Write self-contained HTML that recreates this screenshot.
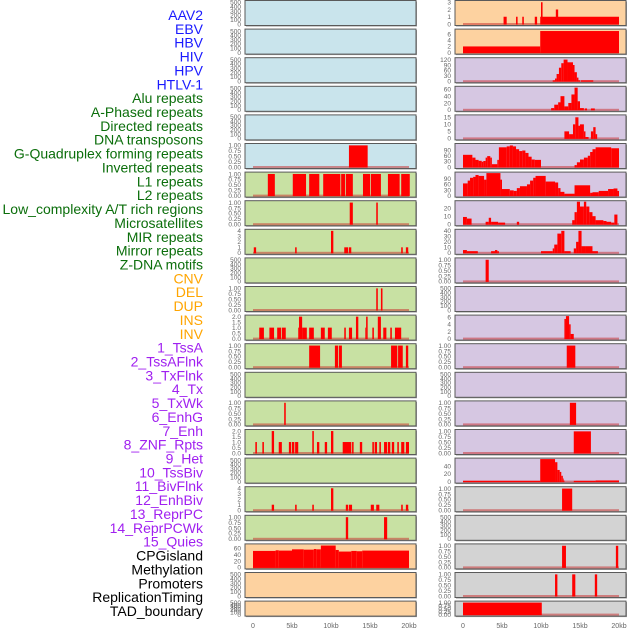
<!DOCTYPE html>
<html><head><meta charset="utf-8"><style>
html,body{margin:0;padding:0;background:#fff;width:630px;height:630px;overflow:hidden;font-family:"Liberation Sans",sans-serif}
svg{display:block}
</style></head><body>
<svg id="chart" width="630" height="630" xmlns="http://www.w3.org/2000/svg"></svg>
<script>
// ---- labels ----
const labelNames = ["AAV2","EBV","HBV","HIV","HPV","HTLV-1","Alu repeats","A-Phased repeats","Directed repeats","DNA transposons","G-Quadruplex forming repeats","Inverted repeats","L1 repeats","L2 repeats","Low_complexity A/T rich regions","Microsatellites","MIR repeats","Mirror repeats","Z-DNA motifs","CNV","DEL","DUP","INS","INV","1_TssA","2_TssAFlnk","3_TxFlnk","4_Tx","5_TxWk","6_EnhG","7_Enh","8_ZNF_Rpts","9_Het","10_TssBiv","11_BivFlnk","12_EnhBiv","13_ReprPC","14_ReprPCWk","15_Quies","CPGisland","Methylation","Promoters","ReplicationTiming","TAD_boundary"];
const labelGroups = [6,13,5,15,5];
const groupColors = ["#1a1aff","#0b6e0b","#ffa500","#a020f0","#000000"];

// ---- tick sets ----
const ticks500 = [0,100,200,300,400,500];
const ticks01 = [0,0.25,0.5,0.75,1];
const ticks04 = [0,1,2,3,4];
const ticks02 = [0,0.5,1,1.5,2];

// ---- left column data: [startKb, endKb, value] ----
const L5 = [[12.3,14.7,1]];
const L6 = [[1.9,2.8,1],[5.1,6.8,1],[7.2,8.5,1],[9.0,11.2,1],[11.3,11.8,1],[11.9,12.8,1],[14.1,15.0,1],[15.1,16.4,1],[17.3,18.8,1],[19.0,20.1,1]];
const L7 = [[12.4,12.8,1],[15.8,16.0,1]];
const L8 = [[0.1,0.4,1],[5.4,5.6,1],[10.0,10.3,4],[11.7,12.2,1],[12.3,12.6,1],[19.0,19.2,1],[19.6,19.9,1]];
const L10 = [[15.8,16.0,1],[16.4,16.6,1]];
const L11 = [[0.8,1.4,1],[2.1,2.7,1],[3.1,3.6,1],[3.7,4.2,1],[5.8,5.9,1],[5.9,6.3,2],[6.3,6.9,1],[7.2,7.8,1],[8.7,9.2,1],[9.6,10.1,1],[11.7,11.9,1],[12.3,12.7,1],[13.2,13.5,2],[14.4,14.5,1],[14.5,14.7,2],[15.3,15.5,1],[16.0,16.4,2],[16.7,17.1,1],[17.6,17.8,1],[18.2,19.0,1]];
const L12 = [[7.2,8.6,1],[10.5,10.9,1],[11.0,11.4,1],[17.7,18.5,1],[18.6,19.2,1],[19.6,19.9,1]];
const L14 = [[4.0,4.2,1]];
const L15 = [[0.3,0.5,1],[1.2,1.4,1],[2.4,2.7,2],[3.3,3.7,1],[4.6,4.9,1],[5.0,5.3,1],[5.4,5.8,1],[7.6,7.8,2],[8.2,8.5,1],[9.2,9.5,1],[10.0,10.3,2],[11.5,12.6,1],[12.7,12.9,1],[13.7,14.0,1],[15.3,15.5,1],[15.6,15.9,1],[16.2,16.4,1],[16.8,17.2,1],[17.3,17.6,1],[17.8,18.1,1],[18.5,18.7,1],[19.0,19.4,1],[19.6,20.0,1]];
const L17 = [[2.4,2.7,1],[5.4,5.6,1],[7.6,7.8,1],[10.0,10.3,4],[11.9,12.2,1],[12.3,12.7,1],[15.1,15.5,1],[15.8,16.2,1],[19.0,19.2,1],[19.6,19.9,1]];
const L18 = [[11.9,12.2,1],[16.8,17.2,1]];
const L19 = [[0,2.9,52],[2.9,3.3,54],[3.3,5.0,53],[5.0,6.5,57],[6.5,7.8,56],[7.8,8.1,58],[8.1,8.7,57],[8.7,10.6,69],[10.6,11.0,55],[11.0,12.6,50],[12.6,13.3,52],[13.3,14.0,51],[14.0,20.0,53]];

// ---- right column data ----
const R0 = [[5.2,5.6,1],[6.8,7.0,1],[7.6,7.8,1],[9.2,9.5,1],[9.9,20.0,1],[10.0,10.2,3],[11.9,12.2,2]];
const R1 = [[0,9.9,2],[9.9,20.0,7]];
const R2 = [[11.5,11.8,5],[11.8,12.0,15],[12.0,12.3,40],[12.3,12.6,75],[12.6,12.9,100],[12.9,13.4,120],[13.4,14.1,105],[14.1,14.3,90],[14.3,14.6,50],[14.6,14.8,20],[14.8,15.0,5],[15.1,16.7,5]];
const R3 = [[11.3,11.7,5],[11.7,12.2,15],[12.2,12.5,22],[12.5,13.0,40],[13.0,13.5,10],[13.5,13.9,20],[13.9,14.3,45],[14.3,14.7,65],[14.7,15.0,25],[15.0,15.5,5],[15.6,15.9,4],[16.4,16.9,4]];
const R4 = [[13.0,13.6,5],[13.6,14.1,3],[14.1,14.4,10],[14.4,14.8,15],[14.8,15.0,9],[15.0,15.5,10],[15.5,15.7,5],[15.7,16.1,1],[16.4,16.7,5],[16.7,17.0,8],[17.0,17.2,3]];
const R5 = [[0,1.2,65],[1.2,1.6,50],[1.6,2.0,38],[2.0,2.4,33],[2.4,2.6,28],[2.6,2.9,32],[2.9,3.1,50],[3.1,3.5,58],[3.5,3.7,50],[3.7,4.4,15],[4.4,4.6,38],[4.6,5.6,105],[5.6,6.0,110],[6.0,6.4,115],[6.4,6.8,110],[6.8,7.2,95],[7.2,7.6,85],[7.6,8.0,88],[8.0,8.4,75],[8.4,8.8,55],[8.8,9.2,40],[9.2,10.0,38],[14.3,14.6,10],[14.6,15.0,25],[15.0,15.5,40],[15.5,16.0,50],[16.0,16.3,60],[16.3,16.6,80],[16.6,17.0,95],[17.0,19.0,105],[19.0,20.0,100]];
const R6 = [[0,0.6,65],[0.6,0.9,80],[0.9,1.3,95],[1.3,1.6,100],[1.6,2.0,110],[2.0,2.7,105],[2.7,3.0,85],[3.0,4.8,120],[4.8,5.0,85],[5.0,6.0,35],[6.0,6.5,28],[6.5,6.9,25],[6.9,7.3,40],[7.3,8.2,50],[8.2,8.6,60],[8.6,9.0,80],[9.0,9.3,95],[9.3,10.6,105],[10.6,11.8,75],[11.8,12.2,70],[12.2,12.5,40],[12.5,13.0,20],[13.0,14.3,10],[14.3,16.3,55],[16.3,16.6,15],[16.6,17.4,18],[17.4,18.6,25],[18.6,19.3,35],[19.3,19.8,38],[19.8,20.0,25]];
const R7 = [[0,0.5,9],[0.5,1.1,7],[2.9,3.3,3],[3.3,3.6,8],[3.6,4.5,3],[4.5,5.4,2],[6.9,7.2,3],[14.0,14.3,5],[14.3,14.6,15],[14.6,15.0,28],[15.0,15.5,22],[15.5,15.8,28],[15.8,16.2,22],[16.2,16.6,15],[16.6,17.0,10],[17.0,18.0,5],[18.0,18.4,4],[18.4,19.0,3],[19.0,19.4,2],[19.4,19.8,12]];
const R8 = [[0,0.5,5],[0.5,1.9,3],[3.6,4.1,3],[4.1,4.4,5],[4.4,4.6,3],[10.0,11.5,3],[11.5,11.7,8],[11.7,12.1,15],[12.1,12.6,35],[12.6,13.0,40],[13.0,13.8,3],[14.2,14.5,8],[14.5,14.8,20],[14.8,15.2,40],[15.2,15.7,12],[15.7,16.6,12],[16.6,17.3,3]];
const R9 = [[2.9,3.3,1]];
const R11 = [[13.0,13.2,5.5],[13.2,13.6,6.3],[13.6,13.8,4],[13.8,14.2,1.3]];
const R12 = [[13.3,14.4,1]];
const R14 = [[13.7,14.5,1]];
const R15 = [[14.2,16.4,1]];
const R16 = [[0,9.9,2],[9.9,11.8,58],[11.8,12.1,50],[12.1,12.4,30],[12.4,12.6,25],[12.6,12.8,15],[12.8,12.9,8],[12.9,13.0,3],[14.2,17.0,2],[17.0,20.0,3]];
const R17 = [[12.7,14.0,1]];
const R19 = [[12.7,13.2,1],[19.6,19.9,1]];
const R20 = [[11.8,12.1,1],[14.0,14.4,1],[16.9,17.2,1]];
const R21 = [[0,10.1,1]];

const xTickKb = [0,5,10,15,20];
const xTickLabels = ["0","5kb","10kb","15kb","20kb"];

const BG = {b:"#c9e4ec",g:"#c8e1a3",o:"#fdd2a0",p:"#d6c7e2",k:"#d3d3d3"};
// [data, ticks, domainMax, bg, decimals]
const leftPanels = [
 [null,ticks500,520,"b",0],[null,ticks500,520,"b",0],[null,ticks500,520,"b",0],[null,ticks500,520,"b",0],[null,ticks500,520,"b",0],
 [L5,ticks01,1.04,"b",2],[L6,ticks01,1.04,"g",2],[L7,ticks01,1.04,"g",2],[L8,ticks04,4.1,"g",0],[null,ticks500,520,"g",0],
 [L10,ticks01,1.04,"g",2],[L11,ticks02,2.05,"g",1],[L12,ticks01,1.04,"g",2],[null,ticks500,520,"g",0],[L14,ticks01,1.04,"g",2],
 [L15,ticks02,2.05,"g",1],[null,ticks500,520,"g",0],[L17,ticks04,4.1,"g",0],[L18,ticks01,1.04,"g",2],[L19,[0,20,40,60],71,"o",0],
 [null,ticks500,520,"o",0],[null,ticks500,520,"o",0]
];
const rightPanels = [
 [R0,[0,1,2,3],3.1,"o",0],[R1,[0,2,4,6],7.3,"o",0],[R2,[0,30,60,90,120],125,"p",0],[R3,[0,20,40,60],66,"p",0],[R4,[0,5,10,15],16,"p",0],
 [R5,[0,30,60,90],120,"p",0],[R6,[0,30,60,90],120,"p",0],[R7,[0,10,20],28,"p",0],[R8,[0,10,20,30,40],41,"p",0],[R9,ticks01,1.04,"p",2],
 [null,ticks500,520,"p",0],[R11,[0,2,4,6],6.3,"p",0],[R12,ticks01,1.04,"p",2],[null,ticks500,520,"p",0],[R14,ticks01,1.04,"p",2],
 [R15,ticks01,1.04,"p",2],[R16,[0,20,40],58,"p",0],[R17,ticks01,1.04,"k",2],[null,ticks500,520,"k",0],[R19,ticks01,1.04,"k",2],
 [R20,ticks01,1.04,"k",2],[R21,ticks01,1.04,"k",2]
];

const NS = "http://www.w3.org/2000/svg";
const svg = document.getElementById("chart");
function mk(tag, attrs, parent){const e=document.createElementNS(NS,tag);for(const k in attrs)e.setAttribute(k,attrs[k]);(parent||svg).appendChild(e);return e;}

// labels
let li=0;
labelGroups.forEach((n,g)=>{for(let k=0;k<n;k++){
  const t=mk("text",{x:203,y:20+li*13.86,"text-anchor":"end","font-size":"14",fill:groupColors[g]});
  t.textContent=labelNames[li];
  
  
  li++;}});

function rowTop(i){return 0.5+i*28.6;}
function drawColumn(panels, x0, zeroX, side){
  const W=171;
  const xs = kb => zeroX + kb*7.8;
  panels.forEach((p,i)=>{
    const [data,ticks,dmax,bg,dec]=p;
    const top=rowTop(i), h=(i===panels.length-1)?15:25;
    const g=mk("g",{});
    
    
    mk("rect",{x:x0+1,y:top+1,width:W,height:h,fill:"#999"},g);
    const bgr=mk("rect",{x:x0,y:top,width:W,height:h,fill:BG[bg],stroke:"#5a5a5a","stroke-width":1},g);
    
    
    const y0=top+h-1.5, y1=top+1;
    const ys = v => y0-(v/dmax)*(y0-y1);
    ticks.forEach(t=>{
      const tl=mk("text",{x:x0-4,y:ys(t)+2.3,"text-anchor":"end","font-size":"6.5",fill:"#666"},g);
      tl.textContent=t.toFixed(dec);
      
      
    });
    if(data){
      mk("rect",{x:xs(0),y:y0-1,width:xs(20)-xs(0),height:2,fill:"rgba(200,40,40,0.5)"},g);
      data.forEach(d=>{
        const r=mk("rect",{x:xs(d[0]),y:ys(d[2]),width:Math.max(0.8,xs(d[1])-xs(d[0])),height:y0-ys(d[2])+0.5,fill:"#ff0000"},g);
        
        
      });
    }
  });
  xTickKb.forEach((kb,j)=>{
    const t=mk("text",{x:xs(kb),y:628,"text-anchor":"middle","font-size":"7",fill:"#666"});
    t.textContent=xTickLabels[j];
    
    
  });
}
drawColumn(leftPanels,245,253,"left");
drawColumn(rightPanels,455,463,"right");
</script>
</body></html>
